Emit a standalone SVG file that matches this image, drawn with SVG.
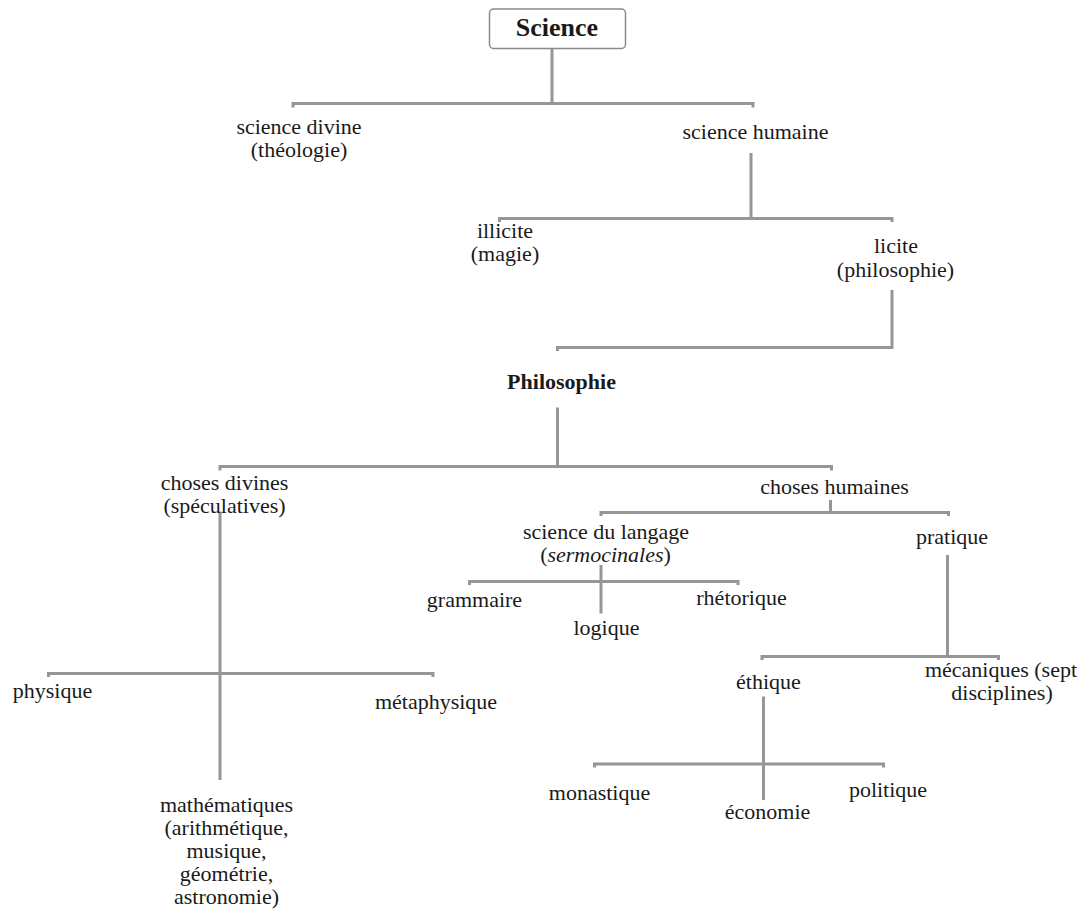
<svg xmlns="http://www.w3.org/2000/svg" width="1084" height="909" viewBox="0 0 1084 909">
<style>
text{font-family:"Liberation Serif","Times New Roman",serif;font-size:22px;fill:#1a1a1a;text-anchor:middle}
.b{font-weight:bold}
.c path{fill:none;stroke:#969696;stroke-width:3}
</style>
<rect width="1084" height="909" fill="#fff"/>
<g class="c" id="connectors">
<path d="M552,48 V103.5"/>
<path d="M293,107.5 V103.5 H753 V107.5"/>
<path d="M751,153 V218.5"/>
<path d="M499.5,222 V218.5 H892 V222"/>
<path d="M892,290 V347.5 H557.5 V351"/>
<path d="M557.5,407.5 V466.5"/>
<path d="M220,470.5 V466.5 H831.5 V470.5"/>
<path d="M220,511.5 V780"/>
<path d="M48.5,677 V673.5 H433 V677"/>
<path d="M830.5,500 V512.5"/>
<path d="M601,516 V512.5 H948.5 V516"/>
<path d="M601,565 V613.5"/>
<path d="M469.5,585 V581.5 H738 V585"/>
<path d="M947.5,555 V656.5"/>
<path d="M762,660 V656.5 H998.5 V660"/>
<path d="M763.5,696.5 V800"/>
<path d="M594.5,767.5 V764 H883.5 V767.5"/>
</g>
<g id="science"><rect x="489.5" y="9" width="136" height="39.5" rx="4" fill="#fff" stroke="#8a8a8a" stroke-width="1.5"/><text class="b" x="557" y="36" style="font-size:26px">Science</text></g>
<g id="science-divine"><text x="299" y="133.5">science divine</text><text x="299" y="157">(théologie)</text></g>
<g id="science-humaine"><text x="755.5" y="138.5">science humaine</text></g>
<g id="illicite"><text x="505" y="237.5">illicite</text><text x="505" y="261">(magie)</text></g>
<g id="licite"><text x="896" y="253">licite</text><text x="895.5" y="276.5">(philosophie)</text></g>
<g id="philosophie"><text class="b" x="561.5" y="388.5">Philosophie</text></g>
<g id="choses-divines"><text x="224.5" y="489.5">choses divines</text><text x="224.5" y="513">(spéculatives)</text></g>
<g id="physique"><text x="52.5" y="697.5">physique</text></g>
<g id="metaphysique"><text x="436" y="708.5">métaphysique</text></g>
<g id="mathematiques"><text x="226.5" y="811.5">mathématiques</text><text x="226.5" y="834.5">(arithmétique,</text><text x="226.5" y="857.5">musique,</text><text x="226.5" y="880.5">géométrie,</text><text x="226.5" y="903.5">astronomie)</text></g>
<g id="choses-humaines"><text x="834.5" y="493.5">choses humaines</text></g>
<g id="science-langage"><text x="606" y="538.5">science du langage</text><text x="605.5" y="562">(<tspan font-style="italic">sermocinales</tspan>)</text></g>
<g id="pratique"><text x="952" y="543.5">pratique</text></g>
<g id="grammaire"><text x="474.5" y="607">grammaire</text></g>
<g id="logique"><text x="606.5" y="635">logique</text></g>
<g id="rhetorique"><text x="741.5" y="605">rhétorique</text></g>
<g id="ethique"><text x="768.5" y="688.5">éthique</text></g>
<g id="mecaniques"><text x="1001" y="677">mécaniques (sept</text><text x="1002" y="700">disciplines)</text></g>
<g id="monastique"><text x="599.5" y="800">monastique</text></g>
<g id="economie"><text x="767.5" y="818.5">économie</text></g>
<g id="politique"><text x="888" y="797">politique</text></g>
</svg>
